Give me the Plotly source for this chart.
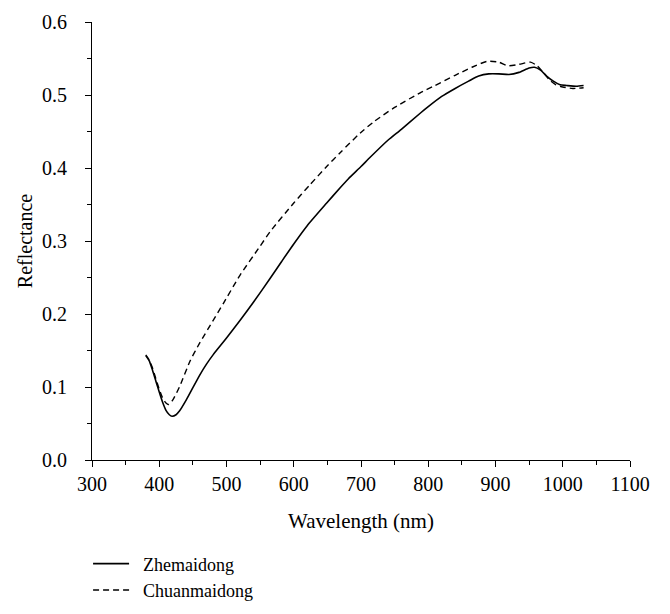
import plotly.graph_objects as go

wl_zhe = [380, 385, 390, 395, 400, 405, 410, 415, 419, 425, 430, 440, 450, 460, 470, 480,
          500, 520, 540, 565, 582, 600, 620, 649, 669, 681, 700, 714, 740, 760, 788, 800,
          820, 840, 860, 875, 890, 905, 920, 935, 950, 958, 967, 976, 986, 996, 1006, 1020, 1031]
refl_zhe = [0.143, 0.136, 0.123, 0.108, 0.093, 0.079, 0.068, 0.062, 0.060, 0.062, 0.067, 0.082,
            0.099, 0.116, 0.131, 0.144, 0.167, 0.191, 0.216, 0.249, 0.272, 0.296, 0.321, 0.352,
            0.373, 0.385, 0.402, 0.415, 0.438, 0.453, 0.475, 0.484, 0.498, 0.509, 0.519, 0.526,
            0.529, 0.529, 0.528, 0.531, 0.537, 0.538, 0.534, 0.526, 0.519, 0.514, 0.513, 0.512, 0.513]

wl_chuan = [380, 385, 390, 395, 400, 405, 410, 414, 420, 430, 446, 460, 480, 495, 520, 550,
            565, 600, 624, 650, 669, 699, 720, 750, 788, 810, 840, 865, 887, 905, 918, 935,
            952, 962, 970, 980, 990, 1000, 1015, 1031]
refl_chuan = [0.144, 0.137, 0.126, 0.111, 0.097, 0.085, 0.078, 0.076, 0.082, 0.100, 0.136, 0.160,
              0.191, 0.214, 0.253, 0.293, 0.313, 0.352, 0.377, 0.403, 0.421, 0.448, 0.464, 0.483,
              0.503, 0.513, 0.527, 0.538, 0.546, 0.545, 0.540, 0.542, 0.545, 0.540, 0.532, 0.521,
              0.514, 0.511, 0.509, 0.510]

x_ticks = [300, 400, 500, 600, 700, 800, 900, 1000, 1100]
y_ticks = [0.0, 0.1, 0.2, 0.3, 0.4, 0.5, 0.6]

font_family = "Liberation Serif"
tick_size = 20
legend_size = 18

fig = go.Figure()
fig.add_trace(go.Scatter(x=wl_zhe, y=refl_zhe, mode="lines", name="\u00a0\u00a0Zhemaidong",
                         line=dict(color="black", width=1.6, shape="spline", smoothing=0.6)))
fig.add_trace(go.Scatter(x=wl_chuan, y=refl_chuan, mode="lines", name="\u00a0\u00a0Chuanmaidong",
                         line=dict(color="black", width=1.4, dash="6px,4px", shape="spline", smoothing=0.6)))

axis_common = dict(showgrid=False, zeroline=False, showline=True, linecolor="black", linewidth=1.2,
                   ticks="outside", ticklen=6, tickwidth=1.2, tickcolor="black", automargin=False,
                   tickfont=dict(family=font_family, size=tick_size, color="black"))

fig.update_xaxes(range=[300, 1100], tickvals=x_ticks, ticktext=[str(v) for v in x_ticks],
                 minor=dict(ticks="outside", ticklen=4, tickwidth=1.2, tickcolor="black", dtick=50),
                 title=dict(text="Wavelength (nm)", font=dict(family=font_family, size=21, color="black"), standoff=19),
                 **axis_common)
fig.update_yaxes(range=[0, 0.6], tickvals=y_ticks, ticktext=[f"{v:.1f}" for v in y_ticks],
                 minor=dict(ticks="outside", ticklen=4, tickwidth=1.2, tickcolor="black", dtick=0.05),
                 ticklabelstandoff=14,
                 title=dict(text="Reflectance", font=dict(family=font_family, size=20, color="black"), standoff=3),
                 **axis_common)

fig.update_layout(
    width=670, height=614,
    margin=dict(l=84, r=48, t=14, b=162),
    plot_bgcolor="white", paper_bgcolor="white",
    font=dict(family=font_family, size=tick_size, color="black"),
    legend=dict(x=-0.0073, y=-0.195, xanchor="left", yanchor="top", orientation="v",
                font=dict(family=font_family, size=legend_size, color="black"),
                bgcolor="rgba(0,0,0,0)", itemwidth=36, tracegroupgap=0),
    showlegend=True,
)

fig.write_html("out.html")
